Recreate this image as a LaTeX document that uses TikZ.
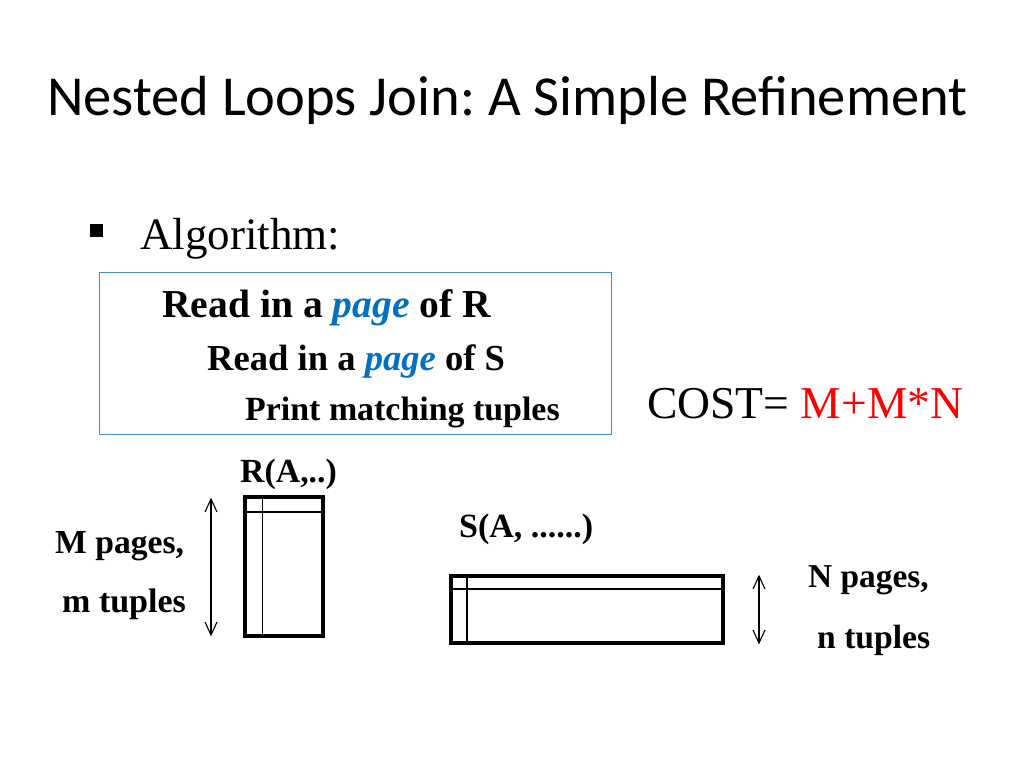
\documentclass[tikz,border=0pt]{standalone}
\usepackage{fontspec}
\setmainfont{Liberation Serif}
\newfontfamily\titlefont{Carlito}
\definecolor{pageblue}{RGB}{0,112,192}
\definecolor{boxblue}{RGB}{70,140,200}
\frenchspacing
\begin{document}
\begin{tikzpicture}[x=1pt,y=-1pt,
  lbl/.style={inner sep=0pt,anchor=base west},
  rel/.style={draw,line width=4pt},
  thinln/.style={line width=1.3pt},
  dimline/.style={line width=1.1pt,line join=miter}]
\useasboundingbox (0,0) rectangle (1024,768);
\fill[white] (0,0) rectangle (1024,768);
% title
\node[lbl] (title) at (47,115) {\titlefont\fontsize{56.5}{58}\selectfont Nested Loops Join: A Simple Refinement};
% bullet
\node[fill=black,minimum size=13pt,inner sep=0pt] (bullet) at (96.5,230.5) {};
\node[lbl] (alg) at (140,249) {\fontsize{45}{47}\selectfont Algorithm:};
% algorithm box
\node[draw=boxblue,line width=1pt,minimum width=512pt,minimum height=162pt,inner sep=0pt] (box) at (355,353) {};
\node[lbl] (l1) at (162,317) {\fontsize{39.6}{42}\selectfont\bfseries Read in a \textcolor{pageblue}{\itshape page} of R};
\node[lbl] (l2) at (207,370) {\fontsize{36.6}{38}\selectfont\bfseries Read in a \textcolor{pageblue}{\itshape page} of S};
\node[lbl] (l3) at (245,420) {\fontsize{33.9}{35}\selectfont\bfseries Print matching tuples};
% cost
\node[lbl] (cost) at (647,418) {\fontsize{45.6}{47}\selectfont COST= \textcolor{red}{M+M*N}};
% R relation
\node[lbl] (rlab) at (240,482) {\fontsize{33.8}{35}\selectfont\bfseries R(A,..)};
\coordinate (r1) at (245,497);
\coordinate (r2) at (323,636);
\draw[thinln] (262.5,497) -- (262.5,636);
\draw[thinln] (245,512) -- (323,512);
\draw[rel] (r1) rectangle (r2);
\coordinate (ra1) at (211,499);
\coordinate (ra2) at (211,635);
\draw[dimline] (ra1) -- (ra2);
\draw[dimline] (ra1) ++(-6,13) -- (ra1) -- ++(6,13);
\draw[dimline] (ra2) ++(-6,-13) -- (ra2) -- ++(6,-13);
\node[lbl] (mp) at (55,553) {\fontsize{33.6}{35}\selectfont\bfseries M pages,};
\node[lbl] (mt) at (62,612) {\fontsize{34}{35}\selectfont\bfseries m tuples};
% S relation
\node[lbl] (slab) at (459,537) {\fontsize{34}{35}\selectfont\bfseries S(A, ......)};
\coordinate (s1) at (451,576);
\coordinate (s2) at (723,643);
\draw[thinln] (467,576) -- (467,643);
\draw[thinln] (451,589) -- (723,589);
\draw[rel] (s1) rectangle (s2);
\coordinate (sa1) at (759,576);
\coordinate (sa2) at (759,643);
\draw[dimline] (sa1) -- (sa2);
\draw[dimline] (sa1) ++(-6,13) -- (sa1) -- ++(6,13);
\draw[dimline] (sa2) ++(-6,-13) -- (sa2) -- ++(6,-13);
\node[lbl] (np) at (808,587) {\fontsize{33.4}{35}\selectfont\bfseries N pages,};
\node[lbl] (nt) at (817,648) {\fontsize{33.6}{35}\selectfont\bfseries n tuples};
\end{tikzpicture}
\end{document}
